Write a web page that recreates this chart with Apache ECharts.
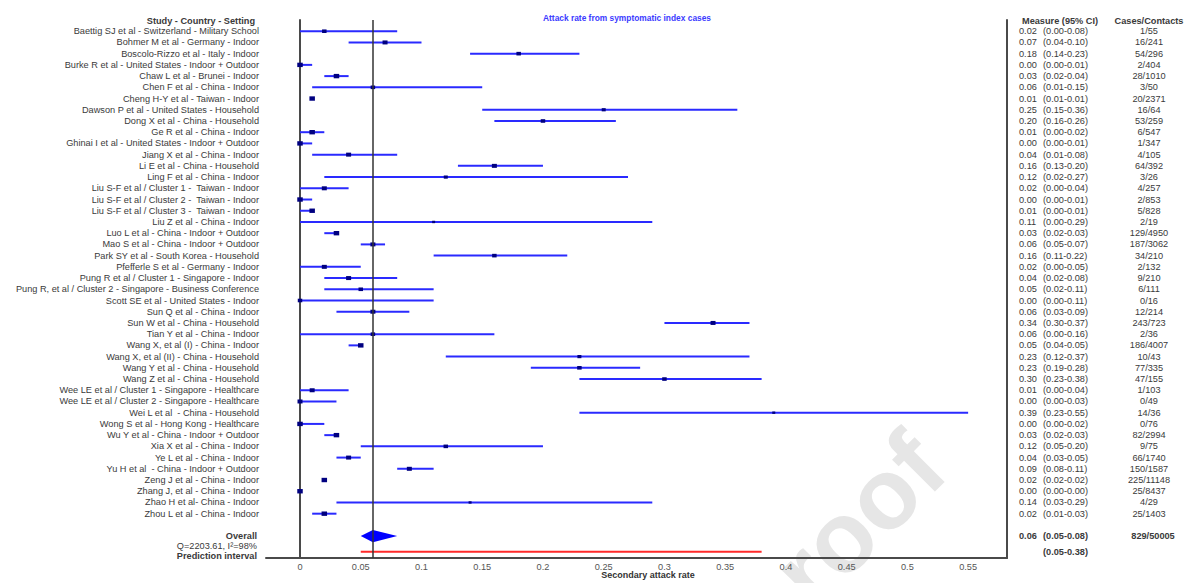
<!DOCTYPE html>
<html>
<head>
<meta charset="utf-8">
<title>Attack rate from symptomatic index cases</title>
<script src="https://cdn.jsdelivr.net/npm/echarts@6/dist/echarts.min.js"></script>
<style>
  html, body { margin: 0; padding: 0; background: #fff; }
  #chart { width: 1185px; height: 583px; }
</style>
</head>
<body>
<div id="chart"></div>
<script>
// Study rows: secondary attack rate with 95% CI and cases/contacts
const studies = [
  'Baettig SJ et al - Switzerland - Military School',
  'Bohmer M et al - Germany - Indoor',
  'Boscolo-Rizzo et al - Italy - Indoor',
  'Burke R et al - United States - Indoor + Outdoor',
  'Chaw L et al - Brunei - Indoor',
  'Chen F et al - China - Indoor',
  'Cheng H-Y et al - Taiwan - Indoor',
  'Dawson P et al - United States - Household',
  'Dong X et al - China - Household',
  'Ge R et al - China - Indoor',
  'Ghinai I et al - United States - Indoor + Outdoor',
  'Jiang X et al - China - Indoor',
  'Li E et al - China - Household',
  'Ling F et al - China - Indoor',
  'Liu S-F et al / Cluster 1 -  Taiwan - Indoor',
  'Liu S-F et al / Cluster 2 -  Taiwan - Indoor',
  'Liu S-F et al / Cluster 3 -  Taiwan - Indoor',
  'Liu Z et al - China - Indoor',
  'Luo L et al - China - Indoor + Outdoor',
  'Mao S et al - China - Indoor + Outdoor',
  'Park SY et al - South Korea - Household',
  'Pfefferle S et al - Germany - Indoor',
  'Pung R et al / Cluster 1 - Singapore - Indoor',
  'Pung R, et al / Cluster 2 - Singapore - Business Conference',
  'Scott SE et al - United States - Indoor',
  'Sun Q et al - China - Indoor',
  'Sun W et al - China - Household',
  'Tian Y et al - China - Indoor',
  'Wang X, et al (I) - China - Indoor',
  'Wang X, et al (II) - China - Household',
  'Wang Y et al - China - Household',
  'Wang Z et al - China - Household',
  'Wee LE et al / Cluster 1 - Singapore - Healthcare',
  'Wee LE et al / Cluster 2 - Singapore - Healthcare',
  'Wei L et al  - China - Household',
  'Wong S et al - Hong Kong - Healthcare',
  'Wu Y et al - China - Indoor + Outdoor',
  'Xia X et al - China - Indoor',
  'Ye L et al - China - Indoor',
  'Yu H et al  - China - Indoor + Outdoor',
  'Zeng J et al - China - Indoor',
  'Zhang J, et al - China - Indoor',
  'Zhao H et al- China - Indoor',
  'Zhou L et al - China - Indoor'
];
const estimate = [0.02, 0.07, 0.18, 0.00, 0.03, 0.06, 0.01, 0.25, 0.20, 0.01, 0.00, 0.04, 0.16, 0.12, 0.02, 0.00, 0.01, 0.11, 0.03, 0.06, 0.16, 0.02, 0.04, 0.05, 0.00, 0.06, 0.34, 0.06, 0.05, 0.23, 0.23, 0.30, 0.01, 0.00, 0.39, 0.00, 0.03, 0.12, 0.04, 0.09, 0.02, 0.00, 0.14, 0.02];
const lower = [0.00, 0.04, 0.14, 0.00, 0.02, 0.01, 0.01, 0.15, 0.16, 0.00, 0.00, 0.01, 0.13, 0.02, 0.00, 0.00, 0.00, 0.00, 0.02, 0.05, 0.11, 0.00, 0.02, 0.02, 0.00, 0.03, 0.30, 0.00, 0.04, 0.12, 0.19, 0.23, 0.00, 0.00, 0.23, 0.00, 0.02, 0.05, 0.03, 0.08, 0.02, 0.00, 0.03, 0.01];
const upper = [0.08, 0.10, 0.23, 0.01, 0.04, 0.15, 0.01, 0.36, 0.26, 0.02, 0.01, 0.08, 0.20, 0.27, 0.04, 0.01, 0.01, 0.29, 0.03, 0.07, 0.22, 0.05, 0.08, 0.11, 0.11, 0.09, 0.37, 0.16, 0.05, 0.37, 0.28, 0.38, 0.04, 0.03, 0.55, 0.02, 0.03, 0.20, 0.05, 0.11, 0.02, 0.00, 0.29, 0.03];
const cases = ['1/55', '16/241', '54/296', '2/404', '28/1010', '3/50', '20/2371', '16/64', '53/259', '6/547', '1/347', '4/105', '64/392', '3/26', '4/257', '2/853', '5/828', '2/19', '129/4950', '187/3062', '34/210', '2/132', '9/210', '6/111', '0/16', '12/214', '243/723', '2/36', '186/4007', '10/43', '77/335', '47/155', '1/103', '0/49', '14/36', '0/76', '82/2994', '9/75', '66/1740', '150/1587', '225/11148', '25/8437', '4/29', '25/1403'];

// Pooled random-effects result
const pooled = [0.06, 0.05, 0.08];          // estimate, lower, upper
const pooledCases = '829/50005';
const heterogeneity = 'Q=2203.61, I\u00B2=98%';
const predictionInterval = [0.05, 0.38];

// x-axis tick labels
const xTicks = [0, 0.05, 0.1, 0.15, 0.2, 0.25, 0.3, 0.35, 0.4, 0.45, 0.5, 0.55];

const FONT = '"Liberation Sans", Arial, Helvetica, sans-serif';
const TEXT_COLOR = '#3a3a3a';
const FS = 9.2;

// row positions on the y axis
const headerRow = -0.9;
const pooledRow = studies.length + 1;
const hetRow = pooledRow + 0.9;
const predLineRow = pooledRow + 1.4;
const predTextRow = pooledRow + 1.8;

const fmt = v => v.toFixed(2);

function textEl(text, x, y, align, bold) {
  return {
    type: 'text',
    silent: true,
    style: {
      text: text, x: x, y: y,
      align: align, verticalAlign: 'middle',
      fontFamily: FONT, fontSize: FS,
      fontWeight: bold ? 'bold' : 'normal',
      fill: TEXT_COLOR
    }
  };
}

function columns(cs) {
  const right = cs.x + cs.width;
  return {
    label: cs.x - 7,
    est: right + 12,
    ci: right + 36,
    cases: right + 142
  };
}

function renderStudy(params, api) {
  const i = params.dataIndex;
  const row = api.value(0);
  const cs = params.coordSys;
  const col = columns(cs);
  const pLo = api.coord([api.value(2), row]);
  const pHi = api.coord([api.value(3), row]);
  const pEst = api.coord([api.value(1), row]);
  const width = api.value(3) - api.value(2);
  const s = width <= 0.02 ? 5.5 : width <= 0.07 ? 5 : width <= 0.16 ? 4.5 : width <= 0.25 ? 4 : 3;
  const children = [
    {
      type: 'line',
      shape: { x1: pLo[0], y1: pLo[1], x2: pHi[0], y2: pHi[1] },
      style: { stroke: '#2a2aff', lineWidth: 2 }
    },
    {
      type: 'rect',
      shape: { x: pEst[0] - s / 2, y: pEst[1] - s * 0.4, width: s, height: s * 0.8 },
      style: { fill: '#000080' }
    },
    textEl(studies[i], col.label, pEst[1], 'right', false),
    textEl(fmt(estimate[i]), col.est, pEst[1], 'left', false),
    textEl('(' + fmt(lower[i]) + '-' + fmt(upper[i]) + ')', col.ci, pEst[1], 'left', false),
    textEl(cases[i], col.cases, pEst[1], 'center', false)
  ];
  if (i === 0) {
    const yH = api.coord([0, headerRow])[1];
    children.push(
      textEl('Study - Country - Setting', col.label - 4, yH, 'right', true),
      textEl('Measure (95% CI)', col.est + 3, yH, 'left', true),
      textEl('Cases/Contacts', col.cases, yH, 'center', true)
    );
  }
  return { type: 'group', children: children };
}

function renderPooled(params, api) {
  const cs = params.coordSys;
  const col = columns(cs);
  const row = api.value(0);
  const c = api.coord([api.value(1), row]);
  const l = api.coord([api.value(2), row]);
  const r = api.coord([api.value(3), row]);
  const h = api.size([0, 1])[1] * 0.55;
  const yHet = api.coord([0, hetRow])[1];
  const yPredText = api.coord([0, predTextRow])[1];
  const yPredLine = api.coord([0, predLineRow])[1];
  const pl = api.coord([predictionInterval[0], predLineRow]);
  const pr = api.coord([predictionInterval[1], predLineRow]);
  return {
    type: 'group',
    children: [
      {
        type: 'polygon',
        shape: { points: [[l[0], c[1]], [c[0], c[1] - h], [r[0], c[1]], [c[0], c[1] + h]] },
        style: { fill: '#0000ff' }
      },
      {
        type: 'line',
        shape: { x1: pl[0], y1: pl[1], x2: pr[0], y2: pr[1] },
        style: { stroke: '#ff2a2a', lineWidth: 2 }
      },
      textEl('Overall', col.label - 2, c[1], 'right', true),
      textEl(heterogeneity, col.label - 2, yHet, 'right', false),
      textEl('Prediction interval', col.label - 2, yPredText, 'right', true),
      textEl(fmt(pooled[0]), col.est, c[1], 'left', true),
      textEl('(' + fmt(pooled[1]) + '-' + fmt(pooled[2]) + ')', col.ci, c[1], 'left', true),
      textEl(pooledCases, col.cases + 4, c[1], 'center', true),
      textEl('(' + fmt(predictionInterval[0]) + '-' + fmt(predictionInterval[1]) + ')', col.ci, yPredLine, 'left', true)
    ]
  };
}

const chart = echarts.init(document.getElementById('chart'), null, { renderer: 'svg' });

chart.setOption({
  backgroundColor: '#ffffff',
  animation: false,
  title: {
    text: 'Attack rate from symptomatic index cases',
    left: 538,
    top: 9,
    textStyle: { fontFamily: FONT, fontSize: 8.4, fontWeight: 'bold', color: '#3b3bff' }
  },
  grid: { left: 266, right: 178, top: 20, bottom: 25, containLabel: false, outerBoundsMode: 'none' },
  xAxis: {
    type: 'value',
    min: -0.028,
    max: 0.582,
    axisLine: { show: true, onZero: false, lineStyle: { color: '#4a4a4a', width: 2 } },
    axisTick: { show: false },
    splitLine: { show: false },
    axisLabel: {
      customValues: xTicks,
      margin: 4,
      fontFamily: FONT,
      fontSize: FS,
      color: '#555',
      formatter: v => String(+v.toFixed(2))
    }
  },
  yAxis: [
    {
      type: 'value',
      inverse: true,
      min: -1,
      max: 46.95,
      position: 'left',
      axisLine: { show: true, lineStyle: { color: '#4a4a4a', width: 2 } },
      axisTick: { show: false },
      axisLabel: { show: false },
      splitLine: { show: false }
    },
    {
      type: 'value',
      inverse: true,
      min: -1,
      max: 46.95,
      position: 'right',
      axisLine: { show: true, lineStyle: { color: '#4a4a4a', width: 2 } },
      axisTick: { show: false },
      axisLabel: { show: false },
      splitLine: { show: false }
    }
  ],
  graphic: [
    {
      // x-axis title
      type: 'text',
      silent: true,
      x: 648,
      y: 575,
      style: {
        text: 'Secondary attack rate',
        align: 'center',
        verticalAlign: 'middle',
        fontFamily: FONT,
        fontWeight: 'bold',
        fontSize: 9,
        fill: '#333'
      }
    },
    {
      type: 'text',
      silent: true,
      z: -10,
      x: 927,
      y: 450,
      rotation: 0.785,
      style: {
        text: 'Journal Pre-proof',
        align: 'right',
        verticalAlign: 'middle',
        fontFamily: FONT,
        fontWeight: 'bold',
        fontSize: 100,
        fill: '#e6e6e6'
      }
    }
  ],
  series: [
    {
      type: 'custom',
      name: 'studies',
      clip: false,
      renderItem: renderStudy,
      encode: { x: [1, 2, 3], y: 0 },
      data: studies.map((_, i) => [i, estimate[i], lower[i], upper[i]]),
      markLine: {
        silent: true,
        symbol: 'none',
        label: { show: false },
        lineStyle: { color: '#333', width: 1.5, type: 'solid' },
        data: [{ xAxis: pooled[0] }]
      },
      z: 3
    },
    {
      type: 'custom',
      name: 'pooled',
      clip: false,
      renderItem: renderPooled,
      encode: { x: [1, 2, 3], y: 0 },
      data: [[pooledRow, pooled[0], pooled[1], pooled[2]]],
      z: 4
    }
  ]
});
</script>
</body>
</html>
